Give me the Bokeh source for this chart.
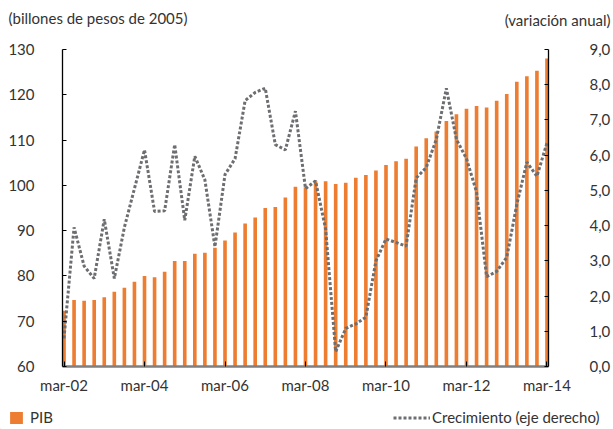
from bokeh.plotting import figure
from bokeh.layouts import column
from bokeh.models import Range1d, LinearAxis, FixedTicker, Legend, LegendItem, ColumnDataSource
from bokeh.core.properties import value
from bokeh.embed import file_html
from bokeh.resources import INLINE

# ---- data ----
tick_labels = ["mar-02", "mar-04", "mar-06", "mar-08", "mar-10", "mar-12", "mar-14"]
left_ticks = [60, 70, 80, 90, 100, 110, 120, 130]
right_ticks = [0, 1, 2, 3, 4, 5, 6, 7, 8, 9]

pib = [72.3, 74.7, 74.5, 74.7, 75.3, 76.5, 77.4, 78.7, 80.0, 79.7,
       80.9, 83.3, 83.3, 84.9, 85.1, 86.2, 87.8, 89.6, 91.6, 92.9,
       95.0, 95.2, 97.3, 99.7, 99.6, 100.9, 100.9, 100.3, 100.6, 101.7,
       102.3, 103.3, 104.5, 105.3, 105.9, 108.6, 110.4, 111.9, 114.2, 115.7,
       116.9, 117.5, 117.2, 118.7, 120.2, 122.9, 124.1, 125.3, 128.0]

crecimiento = [0.8, 3.95, 2.85, 2.5, 4.18, 2.5, 3.95, 5.05, 6.15, 4.4,
               4.42, 6.3, 4.15, 5.97, 5.3, 3.4, 5.45, 5.9, 7.55, 7.78,
               7.9, 6.3, 6.15, 7.25, 5.05, 5.27, 3.9, 0.42, 1.08, 1.21,
               1.4, 3.0, 3.62, 3.52, 3.42, 5.35, 5.65, 6.45, 7.9, 6.45,
               5.9, 4.95, 2.55, 2.7, 3.1, 4.6, 5.8, 5.4, 6.35]

left_title = "(billones de pesos de 2005)"
right_title = "(variación anual)"
bar_name = "PIB"
line_name = "Crecimiento (eje derecho)"

FONT = "Lato"
FS = "15px"
TXT = "#333333"
ORANGE = "#ED7D31"
GREY = "#6D6E71"
W = 613

def bare(h):
    f = figure(width=W, height=h, output_backend="svg", toolbar_location=None,
               x_range=Range1d(0, W), y_range=Range1d(0, h),
               x_axis_type=None, y_axis_type=None,
               min_border_left=0, min_border_right=0, min_border_top=0, min_border_bottom=0)
    f.outline_line_color = None
    f.xgrid.visible = False
    f.ygrid.visible = False
    f.title.visible = False
    try:
        f.frame_align = False
    except Exception:
        pass
    return f

# ---- top strip with the two axis captions ----
top = bare(40)
top.text(x=[8], y=[23], text=[left_title], text_align="left", text_baseline="middle",
         text_font=value(FONT), text_font_size=FS, text_color=TXT)
top.text(x=[610], y=[21], text=[right_title], text_align="right", text_baseline="middle",
         text_font=value(FONT), text_font_size=FS, text_color=TXT)

# ---- main chart ----
idx = list(range(len(pib)))
src = ColumnDataSource(dict(x=idx, pib=pib, crec=crecimiento))

p = figure(width=W, height=360, output_backend="svg", toolbar_location=None,
           x_range=Range1d(-0.15, len(pib) - 1 + 0.15), y_range=Range1d(60, 130),
           min_border_left=62, min_border_right=62, min_border_top=9, min_border_bottom=34)
p.extra_y_ranges = {"right": Range1d(0, 9)}
p.outline_line_color = None
p.xgrid.visible = False
p.ygrid.visible = False

p.vbar(x="x", top="pib", bottom=60, source=src, width=0.36, fill_color=ORANGE, line_color=None)
p.line(x="x", y="crec", source=src, y_range_name="right",
       line_color=GREY, line_width=3, line_dash="3 2")

xa = p.xaxis[0]
xa.ticker = FixedTicker(ticks=[8 * k for k in range(len(tick_labels))])
xa.major_label_overrides = {8 * k: t for k, t in enumerate(tick_labels)}
xa.axis_line_color = "#7f7f7f"
xa.axis_line_width = 2.5
xa.major_tick_in = 5
xa.major_tick_out = 0
xa.major_tick_line_color = "black"
xa.minor_tick_line_color = None
xa.major_label_standoff = 9
xa.major_label_text_font = FONT
xa.major_label_text_font_size = FS
xa.major_label_text_color = TXT

ya = p.yaxis[0]
ya.ticker = FixedTicker(ticks=left_ticks)
ya.axis_line_color = "black"
ya.axis_line_width = 1.3
ya.major_tick_in = 4
ya.major_tick_out = 0
ya.major_tick_line_color = "black"
ya.minor_tick_line_color = None
ya.major_label_standoff = 28
ya.major_label_text_font = FONT
ya.major_label_text_font_size = FS
ya.major_label_text_color = TXT

ra = LinearAxis(y_range_name="right", ticker=FixedTicker(ticks=right_ticks),
                major_label_overrides={t: f"{t},0" for t in right_ticks})
ra.axis_line_color = "black"
ra.axis_line_width = 1.3
ra.major_tick_in = 4
ra.major_tick_out = 0
ra.major_tick_line_color = "black"
ra.minor_tick_line_color = None
ra.major_label_standoff = 41
ra.major_label_text_font = FONT
ra.major_label_text_font_size = FS
ra.major_label_text_color = TXT
p.add_layout(ra, "right")

# ---- bottom strip with the legend (key glyphs kept outside the visible range) ----
bot = bare(29)
kb = bot.vbar(x=[-100], top=[1], width=1, fill_color=ORANGE, line_color=None)
kl = bot.line(x=[-110, -100], y=[1, 1], line_color=GREY, line_width=3, line_dash="3 2")

def mk_legend(label, rend, loc, gw, standoff):
    return Legend(items=[LegendItem(label=label, renderers=[rend])], location=loc,
                  orientation="horizontal", padding=0, margin=0, spacing=0,
                  border_line_color=None, background_fill_alpha=0,
                  glyph_width=gw, glyph_height=15, label_height=15, label_standoff=standoff,
                  label_text_font=FONT, label_text_font_size=FS, label_text_color=TXT)

bot.add_layout(mk_legend(bar_name, kb, (8, 3), 16, 6))
bot.add_layout(mk_legend(line_name, kl, (393, 3), 37, 2))

layout = column(top, p, bot, spacing=0)
open("out.html", "w").write(file_html(layout, INLINE))
